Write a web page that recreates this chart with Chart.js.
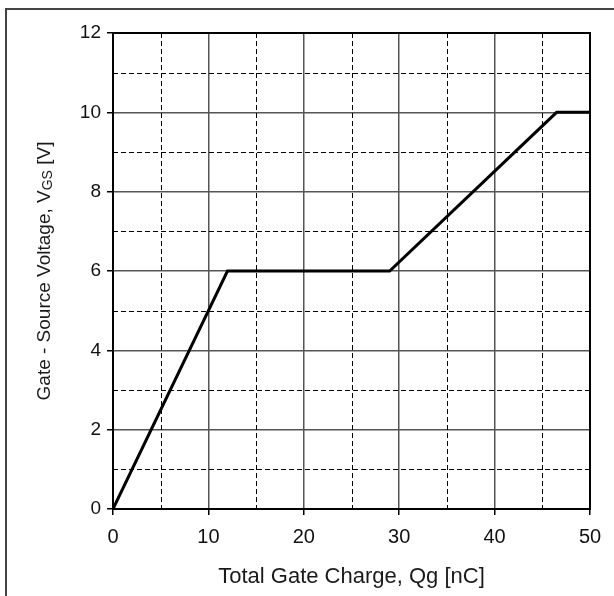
<!DOCTYPE html>
<html>
<head>
<meta charset="utf-8">
<script src="https://cdn.jsdelivr.net/npm/chart.js@4.4.1/dist/chart.umd.min.js"></script>
<style>
  html, body { margin: 0; padding: 0; background: #fff; }
  #wrap { width: 614px; height: 596px; }
</style>
</head>
<body>
<div id="wrap"><canvas id="myChart" width="614" height="596"></canvas></div>
<script>
// ====== DATA ======
const gateCharge = [0, 12, 29, 46.5, 50];   // Qg [nC]
const gateVoltage = [0, 6, 6, 10, 10];      // VGS [V]
const xTicks = [0, 10, 20, 30, 40, 50];
const yTicks = [0, 2, 4, 6, 8, 10, 12];
const xMinorGrid = [5, 15, 25, 35, 45];
const yMinorGrid = [1, 3, 5, 7, 9, 11];

const xTitle = "Total Gate Charge, Qg [nC]";
const yTitleMain = "Gate - Source Voltage, V";
const yTitleSub = "GS";
const yTitleEnd = " [V]";

const FONT = 'Arial, "Liberation Sans", sans-serif';

document.addEventListener("DOMContentLoaded", function () {
  const ctx = document.getElementById("myChart");

  // outer frame, dashed minor grid, plot frame and axis titles
  const decorations = {
    id: "decorations",
    beforeDraw(chart) {
      const c = chart.ctx;
      c.save();
      c.fillStyle = "#fff";
      c.fillRect(0, 0, chart.width, chart.height);
      c.strokeStyle = "#444";
      c.lineWidth = 2;
      c.strokeRect(6, 9, 700, 700);
      c.restore();
    },
    beforeDatasetsDraw(chart) {
      const c = chart.ctx;
      const area = chart.chartArea;
      const xs = chart.scales.x, ys = chart.scales.y;
      c.save();
      c.strokeStyle = "#000";
      c.lineWidth = 1;
      c.setLineDash([5, 3]);
      xMinorGrid.forEach(v => {
        const px = Math.round(xs.getPixelForValue(v)) + 0.5;
        c.beginPath();
        c.moveTo(px, area.top);
        c.lineTo(px, area.bottom);
        c.stroke();
      });
      yMinorGrid.forEach(v => {
        const py = Math.round(ys.getPixelForValue(v)) + 0.5;
        c.beginPath();
        c.moveTo(area.left, py);
        c.lineTo(area.right, py);
        c.stroke();
      });
      c.setLineDash([]);
      c.lineWidth = 2;
      c.strokeStyle = "#000";
      c.strokeRect(area.left, area.top, area.right - area.left, area.bottom - area.top);
      c.restore();
    },
    afterDraw(chart) {
      const c = chart.ctx;
      const area = chart.chartArea;
      c.save();
      c.fillStyle = "#1a1a1a";
      c.textBaseline = "middle";

      // x title
      c.font = "22px " + FONT;
      c.textAlign = "center";
      c.fillText(xTitle, (area.left + area.right) / 2, 577);

      // y title with subscript
      const size = 19;
      const subSize = 14;
      c.font = size + "px " + FONT;
      const w1 = c.measureText(yTitleMain).width;
      const w3 = c.measureText(yTitleEnd).width;
      c.font = subSize + "px " + FONT;
      const w2 = c.measureText(yTitleSub).width;
      const total = w1 + w2 + w3;
      c.translate(45, (area.top + area.bottom) / 2);
      c.rotate(-Math.PI / 2);
      c.textAlign = "left";
      let x0 = -total / 2;
      c.font = size + "px " + FONT;
      c.fillText(yTitleMain, x0, 0);
      c.font = subSize + "px " + FONT;
      c.fillText(yTitleSub, x0 + w1, 3);
      c.font = size + "px " + FONT;
      c.fillText(yTitleEnd, x0 + w1 + w2, 0);
      c.restore();
    }
  };

  new Chart(ctx, {
    type: "scatter",
    data: {
      datasets: [{
        data: gateCharge.map((q, i) => ({ x: q, y: gateVoltage[i] })),
        showLine: true,
        borderColor: "#000",
        borderWidth: 3,
        pointRadius: 0,
        tension: 0
      }]
    },
    options: {
      responsive: false,
      animation: false,
      layout: { padding: { left: 0, top: 33, right: 24, bottom: 0 } },
      plugins: {
        legend: { display: false },
        tooltip: { enabled: false }
      },
      scales: {
        x: {
          type: "linear",
          min: 0,
          max: 50,
          afterFit(scale) { scale.height = 87; },
          afterBuildTicks(scale) { scale.ticks = xTicks.map(v => ({ value: v })); },
          grid: {
            color: "#555",
            lineWidth: 1.5,
            tickColor: "#000",
            tickLength: 6,
            tickWidth: 1.5
          },
          border: { display: false },
          ticks: {
            color: "#111",
            font: { family: FONT, size: 20 },
            padding: 10,
            maxRotation: 0
          }
        },
        y: {
          type: "linear",
          min: 0,
          max: 12,
          afterFit(scale) { scale.width = 113; },
          afterBuildTicks(scale) { scale.ticks = yTicks.map(v => ({ value: v })); },
          grid: {
            color: "#555",
            lineWidth: 1.5,
            tickColor: "#000",
            tickLength: 6,
            tickWidth: 1.5
          },
          border: { display: false },
          ticks: {
            color: "#111",
            font: { family: FONT, size: 19 },
            padding: 6
          }
        }
      }
    },
    plugins: [decorations]
  });
});
</script>
</body>
</html>
